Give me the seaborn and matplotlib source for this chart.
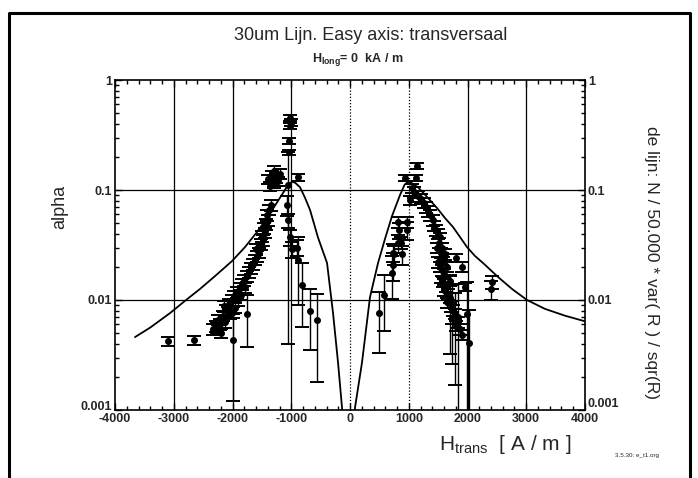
import numpy as np
import pandas as pd
import matplotlib
matplotlib.use("Agg")
import matplotlib.pyplot as plt
import seaborn as sns
from matplotlib.lines import Line2D
from matplotlib.ticker import MultipleLocator, LogLocator, NullFormatter

# --- model line ("de lijn"), two branches ---
curve_left_h = [-3660, -3404, -3064, -2791, -2553, -2298, -2008, -1787, -1583, -1413, -1260,
                -1140, -1055, -990, -930, -851, -766, -681, -545, -391, -289, -204, -136, -110]
curve_left_a = [0.0046, 0.0056, 0.0076, 0.0100, 0.0126, 0.0165, 0.0226, 0.0303, 0.0415, 0.0556,
                0.0746, 0.094, 0.111, 0.119, 0.116, 0.106, 0.085, 0.066, 0.037, 0.0217, 0.0076,
                0.0027, 0.00105, 0.0006]
curve_right_h = [65, 85, 204, 340, 477, 596, 715, 851, 930, 987, 1060, 1157, 1328, 1481, 1617,
                 1753, 1872, 1991, 2128, 2264, 2519, 2757, 3013, 3319, 3659, 4000]
curve_right_a = [0.0006, 0.00105, 0.0027, 0.0106, 0.0217, 0.036, 0.058, 0.090, 0.112, 0.119,
                 0.115, 0.106, 0.0846, 0.0686, 0.0556, 0.0461, 0.0374, 0.0303, 0.0251, 0.0217,
                 0.0162, 0.0126, 0.0100, 0.0083, 0.0072, 0.0064]

# --- measured alpha with error bars (H_trans in A/m) ---
meas_h = [
    -3100, -2650,
    -2330, -2280, -2250, -2210, -2160, -2110, -2140, -2060, -2010, -1975, -1920, -1870,
    -1840, -1800, -1750, -1720, -1685, -1650, -1615, -1585, -1550, -1600, -1515, -1480,
    -1500, -1450, -1465, -1430, -1395, -1415, -1380, -1345,
    -2200, -2120, -2050, -1950, -2000, -2260, -1900, -1850, -1780,
    -1400, -1330, -1260, -1190, -1290, -1360, -1220, -1300, -890,
    -1030, -1010, -1020, -1040, -1045, -1050,
    -1070, -1050, -1020, -985, -900, -885, -820, -680, -560,
    -1750, -1990,
    936, 1123, 1140, 1021, 1055,
    1089, 1157, 1208, 1259, 1294, 1328, 1362, 1413, 1430, 1464, 1498, 1532, 1515, 1566,
    1549, 1583, 1532, 1566, 1600, 1549, 1583, 1634, 1600, 1668, 1702, 1651, 1719, 1753,
    1787, 1736, 1838, 1804, 1872, 1906,
    1480, 1620, 1650, 1500, 1700,
    1804, 1906, 1957,
    1787, 1838, 1991, 2025, 1702, 1736,
    2420, 2400,
    494, 579, 715, 730, 730, 820, 835, 970, 820, 970, 750, 880, 870,
]
meas_alpha = [
    0.0042, 0.0043,
    0.0054, 0.0058, 0.0066, 0.0060, 0.0072, 0.0081, 0.0088, 0.0092, 0.0100, 0.0108, 0.0118, 0.0128,
    0.0140, 0.0152, 0.0165, 0.0180, 0.0196, 0.0212, 0.0231, 0.0250, 0.0270, 0.0290, 0.0320, 0.0350,
    0.0380, 0.0410, 0.0450, 0.0490, 0.0530, 0.0590, 0.0660, 0.0730,
    0.0050, 0.0063, 0.0075, 0.0085, 0.0078, 0.0056, 0.0100, 0.0112, 0.0130,
    0.125, 0.135, 0.130, 0.140, 0.115, 0.108, 0.120, 0.150, 0.130,
    0.45, 0.41, 0.385, 0.28, 0.22, 0.112,
    0.073, 0.053, 0.037, 0.029, 0.030, 0.023, 0.0137, 0.0080, 0.0066,
    0.0074, 0.0043,
    0.128, 0.128, 0.165, 0.081, 0.104,
    0.096, 0.088, 0.083, 0.076, 0.070, 0.064, 0.059, 0.053, 0.047, 0.043, 0.040, 0.037, 0.033, 0.030,
    0.027, 0.022, 0.020, 0.0187, 0.0173, 0.0160, 0.0146, 0.0132, 0.0123, 0.0114, 0.0104, 0.0095, 0.0087, 0.0081,
    0.0075, 0.0069, 0.0063, 0.0058, 0.0054, 0.0048,
    0.030, 0.026, 0.020, 0.022, 0.0150,
    0.024, 0.020, 0.0132,
    0.0066, 0.0070, 0.0074, 0.0041, 0.0100, 0.0081,
    0.0145, 0.0125,
    0.0076, 0.011, 0.0177, 0.021, 0.027, 0.033, 0.043, 0.043, 0.051, 0.051, 0.026, 0.026, 0.033,
]
meas_err = [
    0.0004, 0.0004,
    0.0006, 0.0007, 0.0007, 0.0007, 0.0008, 0.0009, 0.0010, 0.0010, 0.0011, 0.0012, 0.0013, 0.0014,
    0.0016, 0.0017, 0.0018, 0.0020, 0.0022, 0.0023, 0.0025, 0.0028, 0.0030, 0.0032, 0.0035, 0.0039,
    0.0042, 0.0045, 0.0050, 0.0054, 0.0058, 0.0065, 0.0073, 0.0080,
    0.0005, 0.0007, 0.0008, 0.0009, 0.0009, 0.0006, 0.0011, 0.0012, 0.0014,
    0.012, 0.013, 0.013, 0.014, 0.011, 0.011, 0.012, 0.014, 0.010,
    0.03, 0.03, 0.025, 0.02, 0.01, 0.108,
    0.015, 0.008, 0.006, 0.005, 0.005, 0.014, 0.008, 0.0045, 0.0048,
    0.0037, 0.0031,
    0.008, 0.008, 0.010, 0.008, 0.010,
    0.011, 0.010, 0.009, 0.008, 0.008, 0.007, 0.0065, 0.006, 0.005, 0.0047, 0.0044, 0.004, 0.0036, 0.0033,
    0.003, 0.0024, 0.0022, 0.0021, 0.0019, 0.0018, 0.0016, 0.0015, 0.0014, 0.0013, 0.0011, 0.0010, 0.0010, 0.0009,
    0.0008, 0.0008, 0.0007, 0.0006, 0.0006, 0.0005,
    0.003, 0.003, 0.002, 0.0024, 0.0016,
    0.002, 0.002, 0.0012,
    0.0049, 0.0069, 0.0073, 0.0040, 0.0068, 0.0055,
    0.002, 0.0025,
    0.0043, 0.0058, 0.0075, 0.006, 0.005, 0.006, 0.007, 0.008, 0.006, 0.006, 0.005, 0.005, 0.004,
]

x_ticks = [-4000, -3000, -2000, -1000, 0, 1000, 2000, 3000, 4000]
y_ticks = [0.001, 0.01, 0.1, 1]
y_labels = ["0.001", "0.01", "0.1", "1"]

sns.set_style("ticks")
plt.rcParams["font.family"] = ["Liberation Sans", "DejaVu Sans"]
plt.rcParams["mathtext.fontset"] = "custom"
plt.rcParams["mathtext.rm"] = "Liberation Sans"
plt.rcParams["mathtext.bf"] = "Liberation Sans:bold"

curve = pd.DataFrame({
    "H": curve_left_h + curve_right_h,
    "alpha": curve_left_a + curve_right_a,
    "branch": ["left"] * len(curve_left_h) + ["right"] * len(curve_right_h),
})

fig = plt.figure(figsize=(6.98, 4.78), dpi=100)
ax = fig.add_axes([0.1648, 0.1423, 0.6733, 0.6903])

# grid lines
for v in [-3000, -2000, -1000, 2000, 3000]:
    ax.axvline(v, color="black", lw=0.9, zorder=1)
for v in [0, 1000]:
    ax.axvline(v, color="black", lw=0.9, ls=(0, (1, 1.5)), zorder=1)
for v in [0.1, 0.01]:
    ax.axhline(v, color="black", lw=0.9, zorder=1)

sns.lineplot(data=curve, x="H", y="alpha", units="branch", estimator=None, sort=False,
             color="black", lw=1.3, ax=ax, legend=False, zorder=3)

ax.errorbar(meas_h, meas_alpha, yerr=meas_err, fmt="o", ms=4, color="black",
            ecolor="black", elinewidth=1, capsize=5, capthick=1.4, zorder=4)

ax.set_yscale("log")
ax.set_xlim(-4000, 4000)
ax.set_ylim(0.001, 1)
ax.set_xticks(x_ticks)
ax.set_xticklabels([str(t) for t in x_ticks])
ax.xaxis.set_minor_locator(MultipleLocator(200))
ax.set_yticks(y_ticks)
ax.set_yticklabels(y_labels)
ax.yaxis.set_minor_locator(LogLocator(subs=np.arange(2, 10)))
ax.yaxis.set_minor_formatter(NullFormatter())
ax.tick_params(which="both", direction="in", top=True, right=True, labelright=True,
               color="black", width=1)
ax.tick_params(which="major", length=5, pad=2, labelsize=9)
ax.tick_params(which="minor", length=3)
for lab in ax.get_xticklabels() + ax.get_yticklabels():
    lab.set_fontweight("bold")
for t in ax.yaxis.get_major_ticks():
    t.label2.set_fontweight("bold")
# lift the 0.001 labels a little, clear of -4000 / 4000
bottom_tick = ax.yaxis.get_major_ticks()[0]
bottom_tick.label1.set_verticalalignment("baseline")
bottom_tick.label2.set_verticalalignment("bottom")
ax.set_xlabel("")
ax.set_ylabel("")
for s in ax.spines.values():
    s.set_color("black")
    s.set_linewidth(1.2)

# texts
fig.text(371 / 698, 1 - 35 / 478, "30um Lijn. Easy axis: transversaal",
         ha="center", va="center", fontsize=13)
fig.text(358 / 698, 1 - 60 / 478, r"H$_{\bf long}$= 0  kA / m",
         ha="center", va="center", fontsize=9, fontweight="bold")
fig.text(60 / 698, 1 - 207 / 478, "alpha", rotation=90,
         ha="center", va="center", fontsize=13)
fig.text(652 / 698, 1 - 262 / 478, "de lijn: N / 50.000 * var( R ) / sqr(R)",
         rotation=270, ha="center", va="center", fontsize=12.5)
fig.text(505 / 698, 1 - 445 / 478, r"H$_{\rm trans}$  [ A / m ]",
         ha="center", va="center", fontsize=15)
fig.text(637 / 698, 1 - 456 / 478, "3.5.30: e_t1.org",
         ha="center", va="center", fontsize=4.5)

# outer frame of the scanned page
fig.add_artist(Line2D([9 / 698, 9 / 698, 690 / 698, 690 / 698],
                      [0, 1 - 13 / 478, 1 - 13 / 478, 0],
                      transform=fig.transFigure, color="black", lw=2.2))

fig.savefig("out.png", dpi=100)
